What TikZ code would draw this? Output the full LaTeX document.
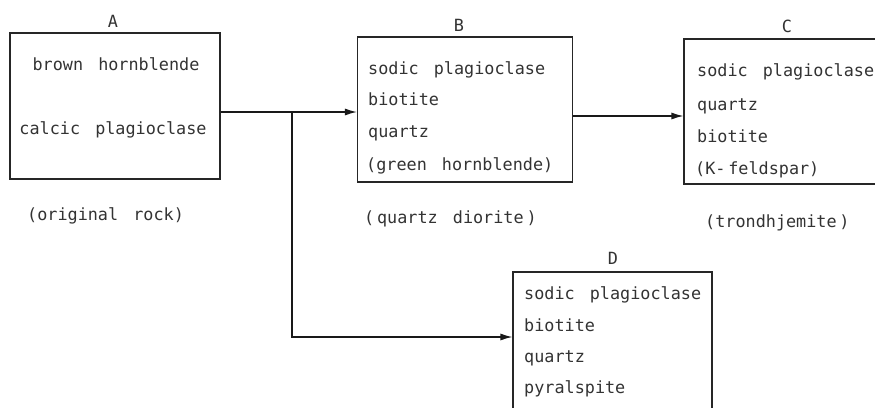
\documentclass[tikz,border=0pt]{standalone}
\usepackage{fontspec}
\setmonofont{DejaVu Sans Mono}
\usetikzlibrary{arrows.meta}
\newcommand{\wg}{\hspace{0.9em}}
\tikzset{
  box/.style={draw=black!85, line width=1.1pt, rectangle, inner sep=0pt},
  txt/.style={anchor=base west, inner sep=0pt, text=black!80, font=\ttfamily\fontsize{16.8}{18}\selectfont},
  ctxt/.style={txt, anchor=base},
  conn/.style={draw=black!90, line width=1.3pt},
  arr/.style={conn, -{Latex[length=12pt,width=7pt]}}
}
\begin{document}
\begin{tikzpicture}[x=1pt,y=-1pt]
\useasboundingbox (0,0) rectangle (875,407);
\clip (0,0) rectangle (875,407);
\fill[white] (0,0) rectangle (875,407);
% boxes
\node[box, minimum width=210pt, minimum height=146pt] (A) at (115,106) {};
\node[box, minimum width=215pt, minimum height=145pt] (B) at (465,109.5) {};
\node[box, minimum width=201pt, minimum height=145pt] (C) at (784.5,111.5) {};
\node[box, minimum width=199pt, minimum height=143pt] (D) at (612.5,343.5) {};
% titles
\node[ctxt] (tA) at (113,27) {A};
\node[ctxt] (tB) at (459,31) {B};
\node[ctxt] (tC) at (787,32) {C};
\node[ctxt] (tD) at (613,264) {D};
% A contents
\node[ctxt] (a1) at (116,70) {brown\wg hornblende};
\node[ctxt] (a2) at (113,134) {calcic\wg plagioclase};
\node[txt] (a3) at (27,220) {(original\wg rock)};
% B contents
\node[txt] (b1) at (368,74) {sodic\wg plagioclase};
\node[txt] (b2) at (368,105) {biotite};
\node[txt] (b3) at (368,137) {quartz};
\node[txt] (b4) at (366,170) {(green\wg hornblende)};
\node[txt] (b5) at (364,223) {(\,quartz\wg diorite\,)};
% C contents
\node[txt] (c1) at (697,76) {sodic\wg plagioclase};
\node[txt] (c2) at (697,110) {quartz};
\node[txt] (c3) at (697,142) {biotite};
\node[txt] (c4) at (695,174) {(K-\,feldspar)};
\node[txt] (c5) at (705,227) {(trondhjemite\,)};
% D contents
\node[txt] (d1) at (524,299) {sodic\wg plagioclase};
\node[txt] (d2) at (524,331) {biotite};
\node[txt] (d3) at (524,362) {quartz};
\node[txt] (d4) at (524,393) {pyralspite};
% connectors
\coordinate (j) at (292,112);
\coordinate (k) at (292,337);
\coordinate (bc) at (620,116);
\draw[arr] (A.east |- j) -- (B.west |- j);
\draw[arr] (j) -- (k) -- (D.west |- k);
\draw[arr] (B.east |- bc) -- (C.west |- bc);
\end{tikzpicture}
\end{document}
